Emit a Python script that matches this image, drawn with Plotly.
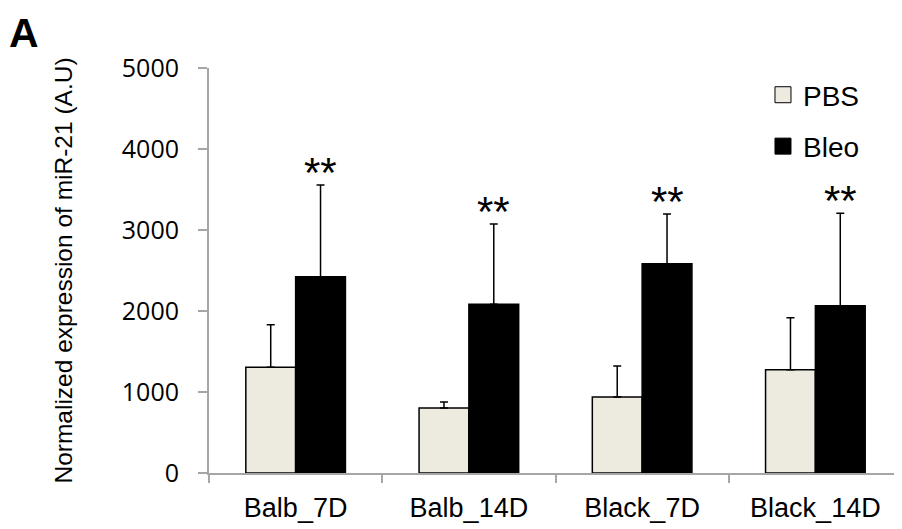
import plotly.graph_objects as go

categories = ["Balb_7D", "Balb_14D", "Black_7D", "Black_14D"]
pbs_values = [1305, 802, 938, 1275]
pbs_errors = [526, 75, 383, 642]
bleo_values = [2424, 2083, 2584, 2065]
bleo_errors = [1132, 991, 614, 1141]
significance = ["**", "**", "**", "**"]
y_ticks = [0, 1000, 2000, 3000, 4000, 5000]

BARGAP = 0.425
PBS_COLOR = "#EDEBE0"
BLEO_COLOR = "black"
FONT = "Liberation Sans, Arial"

fig = go.Figure()
fig.add_trace(go.Bar(
    name="PBS", x=categories, y=pbs_values, showlegend=False,
    marker=dict(color=PBS_COLOR, line=dict(color="black", width=1.5)),
    error_y=dict(type="data", array=pbs_errors, arrayminus=[0]*4, symmetric=False,
                 color="black", thickness=1.5, width=4),
))
fig.add_trace(go.Bar(
    name="Bleo", x=categories, y=bleo_values, showlegend=False,
    marker=dict(color=BLEO_COLOR, line=dict(color="black", width=1.5)),
    error_y=dict(type="data", array=bleo_errors, arrayminus=[0]*4, symmetric=False,
                 color="black", thickness=1.5, width=4),
))
# legend-only entries with larger square swatches
for name, col, grp in [("PBS", PBS_COLOR, "a"), ("Bleo", BLEO_COLOR, "b")]:
    fig.add_trace(go.Scatter(
        name=name, x=[None], y=[None], mode="markers", legendgroup=grp,
        marker=dict(symbol="square", size=16, color=col, line=dict(color="black", width=1)),
    ))

offset = (1 - BARGAP) / 4
for i, (v, e, s) in enumerate(zip(bleo_values, bleo_errors, significance)):
    fig.add_annotation(x=i + offset, y=v + e, xref="x", yref="y", text=s,
                       showarrow=False, yanchor="bottom", yshift=-13,
                       font=dict(family=FONT, size=42, color="black"))

fig.add_annotation(x=-0.29, y=1.146, xref="paper", yref="paper", yanchor="top", xanchor="left",
                   text="<b>A</b>", showarrow=False, borderpad=0,
                   font=dict(family=FONT, size=41, color="black"))

fig.update_layout(
    width=894, height=521,
    margin=dict(l=201, r=0, t=60, b=56, autoexpand=False),
    paper_bgcolor="white", plot_bgcolor="white",
    barmode="group", bargap=BARGAP, bargroupgap=0,
    showlegend=True,
    legend=dict(x=0.7994, y=0.995, xanchor="left", yanchor="top",
                font=dict(family=FONT, size=28, color="black"),
                tracegroupgap=12, itemwidth=30, bgcolor="rgba(0,0,0,0)"),
    font=dict(family=FONT, color="black"),
)
fig.update_yaxes(range=[0, 5000], tickvals=y_ticks, showgrid=False, zeroline=False,
                 showline=True, linecolor="#A6A6A6", linewidth=2,
                 ticks="outside", ticklen=9, tickcolor="#A6A6A6", tickwidth=2,
                 tickfont=dict(family="Open Sans, Liberation Sans", size=25, color="black"),
                 ticklabelstandoff=14,
                 title=dict(text="Normalized expression of miR-21 (A.U)",
                            font=dict(family=FONT, size=24.5, color="black"),
                            standoff=42))
fig.update_xaxes(range=[-0.5, 3.5], showline=True, linecolor="#A6A6A6", linewidth=2,
                 ticks="outside", ticklen=8, tickcolor="#A6A6A6", tickwidth=2,
                 tickson="boundaries", ticklabelstandoff=10,
                 tickfont=dict(family=FONT, size=27, color="black"))

fig.write_html("out.html")
